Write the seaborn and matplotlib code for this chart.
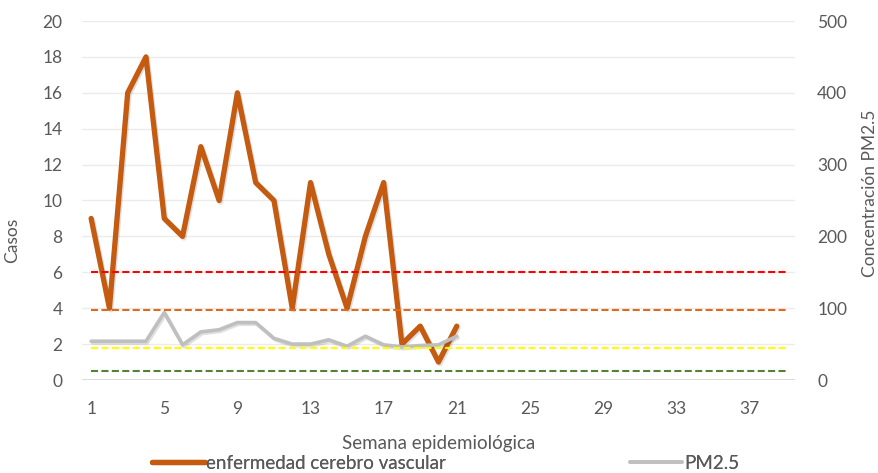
import matplotlib
matplotlib.use("Agg")
import matplotlib.pyplot as plt
import matplotlib.patheffects as pe
from matplotlib.lines import Line2D
import pandas as pd
import seaborn as sns

# Weekly data
weeks_cases = list(range(1, 22))
casos = [9, 4, 16, 18, 9, 8, 13, 10, 16, 11, 10, 4, 11, 7, 4, 8, 11, 2, 3, 1, 3]
pm25 = [54, 54, 54, 54, 94, 49, 67, 70, 80, 80, 58, 50, 50, 56, 47, 61, 49, 46, 48, 49, 61]

# Reference levels for PM2.5 (drawn across all weeks)
all_weeks = list(range(1, 40))
level_values = [12, 45, 98, 150]
level_colors = ["#548235", "#FFFF00", "#E0691A", "#FF0000"]

tick_weeks = list(range(1, 40, 4))

sns.set_theme(style="white")
plt.rcParams["font.family"] = ["Lato", "DejaVu Sans"]
text_color = "#595959"

fig = plt.figure(figsize=(8.79, 4.73), dpi=100)
ax1 = fig.add_axes([82 / 879, 1 - 380 / 473, (795 - 82) / 879, (380 - 21) / 473])
ax2 = ax1.twinx()

df_cases = pd.DataFrame({"semana": weeks_cases, "casos": casos, "pm25": pm25})

shadow = [pe.SimpleLineShadow(offset=(1.0, -1.2), shadow_color="black", alpha=0.12),
          pe.Normal()]

# Cases on the left axis
sns.lineplot(data=df_cases, x="semana", y="casos", ax=ax1, color="#C55A11",
             linewidth=3.8, path_effects=shadow)

# PM2.5 and reference levels on the right axis
sns.lineplot(data=df_cases, x="semana", y="pm25", ax=ax2, color="#BFBFBF",
             linewidth=2.6, path_effects=shadow)
for val, col in zip(level_values, level_colors):
    df_lvl = pd.DataFrame({"semana": all_weeks, "nivel": [val] * len(all_weeks)})
    sns.lineplot(data=df_lvl, x="semana", y="nivel", ax=ax2, color=col,
                 linewidth=1.5, linestyle=(0, (3.4, 1.6)))

ax1.set_xlim(0.5, 39.5)
ax1.set_ylim(0, 20)
ax2.set_ylim(0, 500)
ax1.set_yticks(range(0, 21, 2))
ax2.set_yticks(range(0, 501, 100))
ax1.set_xticks(tick_weeks)
ax1.set_xticklabels([str(w) for w in tick_weeks])

ax1.grid(axis="y", color="#EBEBEB", linewidth=1.0)
ax1.grid(axis="x", visible=False)
ax2.grid(False)
for ax in (ax1, ax2):
    for side in ("top", "left", "right", "bottom"):
        ax.spines[side].set_visible(False)
ax1.axhline(0, color="#D9D9D9", linewidth=2.0, zorder=1)

ax1.tick_params(axis="y", length=0, pad=14, labelsize=12.5, labelcolor=text_color)
ax2.tick_params(axis="y", length=0, pad=16, labelsize=12.5, labelcolor=text_color)
ax1.tick_params(axis="x", length=0, pad=15, labelsize=12.5, labelcolor=text_color)

ax1.set_xlabel("Semana epidemiológica", fontsize=13.5, color=text_color)
ax1.set_ylabel("Casos", fontsize=12.5, color=text_color)
ax2.set_ylabel("Concentración PM2.5", fontsize=12.5, color=text_color)
ax1.xaxis.set_label_coords(0.5, -0.152)
ax1.yaxis.set_label_coords(-0.087, 0.39)
ax2.yaxis.set_label_coords(1.094, 0.52)

# Legend entries placed along the bottom
entries = [("enfermedad cerebro vascular", "#C55A11", 3.8, 152),
           ("PM2.5", "#BFBFBF", 2.6, 630)]
for label, col, lw, xpix in entries:
    leg = fig.legend([Line2D([], [], color=col, linewidth=lw)], [label],
                     loc="center left", bbox_to_anchor=(xpix / 879, 1 - 463 / 473),
                     frameon=False, fontsize=13.5, borderpad=0, borderaxespad=0,
                     handlelength=2.8, handletextpad=0.1)
    for t in leg.get_texts():
        t.set_color(text_color)
    fig.add_artist(leg)

fig.savefig("out.png", dpi=100)
